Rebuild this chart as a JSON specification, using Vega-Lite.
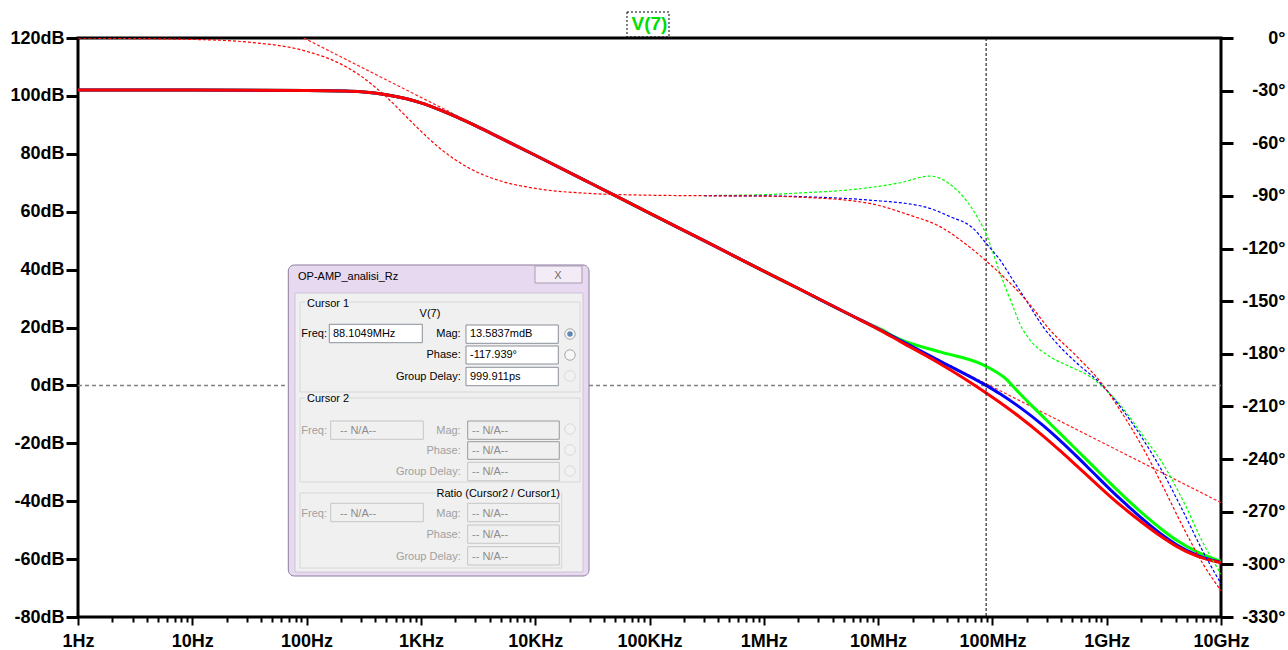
{
  "$schema": "https://vega.github.io/schema/vega-lite/v6.json",
  "width": 1143,
  "height": 579,
  "autosize": {"type": "none"},
  "padding": {"left": 78, "top": 38, "right": 67, "bottom": 33},
  "background": "#ffffff",
  "config": {
    "view": {"stroke": "#000000", "strokeWidth": 3},
    "axis": {
      "labelFont": "Liberation Sans",
      "labelFontWeight": "bold",
      "labelFontSize": 18,
      "labelColor": "#000000",
      "tickColor": "#000000",
      "domain": false,
      "grid": false,
      "labelOverlap": false,
      "labelFlush": false,
      "labelBound": false
    }
  },
  "title": {
    "text": "V(7)",
    "color": "#00dd00",
    "font": "Liberation Sans",
    "fontSize": 19,
    "fontWeight": "bold",
    "anchor": "middle",
    "frame": "group",
    "baseline": "alphabetic",
    "offset": -37
  },
  "datasets": {
    "mag": [
      {"s": "trace3", "f": 1, "d": 102.0}, {"s": "trace3", "f": 10, "d": 102.0}, {"s": "trace3", "f": 100, "d": 101.9}, {"s": "trace3", "f": 200, "d": 101.7}, {"s": "trace3", "f": 300, "d": 101.4}, {"s": "trace3", "f": 500, "d": 100.4}, {"s": "trace3", "f": 750, "d": 99.0}, {"s": "trace3", "f": 1000, "d": 97.6}, {"s": "trace3", "f": 1500, "d": 95.0}, {"s": "trace3", "f": 2000, "d": 92.9}, {"s": "trace3", "f": 3000, "d": 89.7}, {"s": "trace3", "f": 5000, "d": 85.4}, {"s": "trace3", "f": 10000, "d": 79.5}, {"s": "trace3", "f": 30000, "d": 70.0}, {"s": "trace3", "f": 100000, "d": 59.5}, {"s": "trace3", "f": 300000, "d": 50.0}, {"s": "trace3", "f": 1000000, "d": 39.5}, {"s": "trace3", "f": 2070000, "d": 33.2}, {"s": "trace3", "f": 5680000, "d": 24.4},
      {"s": "trace3", "f": 6940000, "d": 22.7}, {"s": "trace3", "f": 10390000, "d": 19.5}, {"s": "trace3", "f": 15560000, "d": 15.9}, {"s": "trace3", "f": 34800000, "d": 11.6}, {"s": "trace3", "f": 77900000, "d": 7.6}, {"s": "trace3", "f": 101200000, "d": 5.3}, {"s": "trace3", "f": 134200000, "d": 1.9}, {"s": "trace3", "f": 151400000, "d": -0.3}, {"s": "trace3", "f": 174200000, "d": -2.9}, {"s": "trace3", "f": 220000000, "d": -6.9}, {"s": "trace3", "f": 277000000, "d": -10.8}, {"s": "trace3", "f": 400000000, "d": -17.0}, {"s": "trace3", "f": 550000000, "d": -22.4}, {"s": "trace3", "f": 760000000, "d": -27.9}, {"s": "trace3", "f": 1069000000, "d": -33.7}, {"s": "trace3", "f": 1500000000, "d": -39.3}, {"s": "trace3", "f": 2080000000, "d": -44.4}, {"s": "trace3", "f": 3000000000, "d": -49.6}, {"s": "trace3", "f": 4120000000, "d": -53.6}, {"s": "trace3", "f": 6170000000, "d": -57.5}, {"s": "trace3", "f": 10000000000, "d": -60.8},

      {"s": "trace2", "f": 1, "d": 102.0}, {"s": "trace2", "f": 10, "d": 102.0}, {"s": "trace2", "f": 100, "d": 101.9}, {"s": "trace2", "f": 200, "d": 101.7}, {"s": "trace2", "f": 300, "d": 101.4}, {"s": "trace2", "f": 500, "d": 100.4}, {"s": "trace2", "f": 750, "d": 99.0}, {"s": "trace2", "f": 1000, "d": 97.6}, {"s": "trace2", "f": 1500, "d": 95.0}, {"s": "trace2", "f": 2000, "d": 92.9}, {"s": "trace2", "f": 3000, "d": 89.7}, {"s": "trace2", "f": 5000, "d": 85.4}, {"s": "trace2", "f": 10000, "d": 79.5}, {"s": "trace2", "f": 30000, "d": 70.0}, {"s": "trace2", "f": 100000, "d": 59.5}, {"s": "trace2", "f": 300000, "d": 50.0}, {"s": "trace2", "f": 1000000, "d": 39.5}, {"s": "trace2", "f": 2070000, "d": 33.2}, {"s": "trace2", "f": 5680000, "d": 24.4},
      {"s": "trace2", "f": 10390000, "d": 19.2}, {"s": "trace2", "f": 15560000, "d": 15.6}, {"s": "trace2", "f": 34800000, "d": 8.4}, {"s": "trace2", "f": 88100000, "d": 0.0}, {"s": "trace2", "f": 116500000, "d": -2.9}, {"s": "trace2", "f": 174200000, "d": -7.6}, {"s": "trace2", "f": 277000000, "d": -13.8}, {"s": "trace2", "f": 400000000, "d": -19.4}, {"s": "trace2", "f": 550000000, "d": -24.6}, {"s": "trace2", "f": 760000000, "d": -30.1}, {"s": "trace2", "f": 1069000000, "d": -35.9}, {"s": "trace2", "f": 1500000000, "d": -41.3}, {"s": "trace2", "f": 2080000000, "d": -46.3}, {"s": "trace2", "f": 3000000000, "d": -51.4}, {"s": "trace2", "f": 4120000000, "d": -55.1}, {"s": "trace2", "f": 6170000000, "d": -58.6}, {"s": "trace2", "f": 10000000000, "d": -61.1},

      {"s": "trace1", "f": 1, "d": 102.0}, {"s": "trace1", "f": 10, "d": 102.0}, {"s": "trace1", "f": 100, "d": 101.9}, {"s": "trace1", "f": 200, "d": 101.7}, {"s": "trace1", "f": 300, "d": 101.4}, {"s": "trace1", "f": 500, "d": 100.4}, {"s": "trace1", "f": 750, "d": 99.0}, {"s": "trace1", "f": 1000, "d": 97.6}, {"s": "trace1", "f": 1500, "d": 95.0}, {"s": "trace1", "f": 2000, "d": 92.9}, {"s": "trace1", "f": 3000, "d": 89.7}, {"s": "trace1", "f": 5000, "d": 85.4}, {"s": "trace1", "f": 10000, "d": 79.5}, {"s": "trace1", "f": 30000, "d": 70.0}, {"s": "trace1", "f": 100000, "d": 59.5}, {"s": "trace1", "f": 300000, "d": 50.0}, {"s": "trace1", "f": 1000000, "d": 39.5}, {"s": "trace1", "f": 2070000, "d": 33.2}, {"s": "trace1", "f": 5680000, "d": 24.4},
      {"s": "trace1", "f": 10390000, "d": 19.1}, {"s": "trace1", "f": 15560000, "d": 15.2}, {"s": "trace1", "f": 34800000, "d": 7.5}, {"s": "trace1", "f": 70400000, "d": 0.0}, {"s": "trace1", "f": 116500000, "d": -5.9}, {"s": "trace1", "f": 174200000, "d": -11.0}, {"s": "trace1", "f": 277000000, "d": -17.4}, {"s": "trace1", "f": 400000000, "d": -22.9}, {"s": "trace1", "f": 550000000, "d": -27.9}, {"s": "trace1", "f": 760000000, "d": -33.0}, {"s": "trace1", "f": 1069000000, "d": -38.3}, {"s": "trace1", "f": 1500000000, "d": -43.2}, {"s": "trace1", "f": 2080000000, "d": -47.6}, {"s": "trace1", "f": 3000000000, "d": -52.2}, {"s": "trace1", "f": 4120000000, "d": -55.7}, {"s": "trace1", "f": 6170000000, "d": -59.0}, {"s": "trace1", "f": 10000000000, "d": -61.3}
    ],
    "phase": [
      {"s": "trace3", "f": 300000, "p": -89.8},
      {"s": "trace3", "f": 1000000, "p": -89.3}, {"s": "trace3", "f": 2070000, "p": -88.3}, {"s": "trace3", "f": 5680000, "p": -86.5}, {"s": "trace3", "f": 15560000, "p": -82.5}, {"s": "trace3", "f": 28400000, "p": -78.7}, {"s": "trace3", "f": 45200000, "p": -84.7}, {"s": "trace3", "f": 67600000, "p": -98}, {"s": "trace3", "f": 89700000, "p": -113}, {"s": "trace3", "f": 116500000, "p": -134}, {"s": "trace3", "f": 151400000, "p": -153}, {"s": "trace3", "f": 174200000, "p": -163}, {"s": "trace3", "f": 213000000, "p": -172}, {"s": "trace3", "f": 319000000, "p": -181.6}, {"s": "trace3", "f": 477000000, "p": -187.3}, {"s": "trace3", "f": 714000000, "p": -193}, {"s": "trace3", "f": 874000000, "p": -197.5}, {"s": "trace3", "f": 1307000000, "p": -209}, {"s": "trace3", "f": 2090000000, "p": -227}, {"s": "trace3", "f": 3128000000, "p": -243}, {"s": "trace3", "f": 4680000000, "p": -264}, {"s": "trace3", "f": 7000000000, "p": -288}, {"s": "trace3", "f": 10000000000, "p": -305.5},

      {"s": "trace2", "f": 300000, "p": -89.9},
      {"s": "trace2", "f": 1000000, "p": -90.0}, {"s": "trace2", "f": 2070000, "p": -90.4}, {"s": "trace2", "f": 8000000, "p": -92.3}, {"s": "trace2", "f": 24700000, "p": -96}, {"s": "trace2", "f": 42600000, "p": -101.8}, {"s": "trace2", "f": 67600000, "p": -108.4}, {"s": "trace2", "f": 88100000, "p": -117.0}, {"s": "trace2", "f": 116500000, "p": -126.5}, {"s": "trace2", "f": 151400000, "p": -138}, {"s": "trace2", "f": 201000000, "p": -150.3}, {"s": "trace2", "f": 277000000, "p": -164.5}, {"s": "trace2", "f": 390000000, "p": -176}, {"s": "trace2", "f": 550000000, "p": -185.4}, {"s": "trace2", "f": 874000000, "p": -196.7}, {"s": "trace2", "f": 1307000000, "p": -210}, {"s": "trace2", "f": 2090000000, "p": -229}, {"s": "trace2", "f": 3128000000, "p": -248}, {"s": "trace2", "f": 4680000000, "p": -270}, {"s": "trace2", "f": 7000000000, "p": -293}, {"s": "trace2", "f": 10000000000, "p": -311},

      {"s": "trace1", "f": 1, "p": -0.1}, {"s": "trace1", "f": 10, "p": -0.8}, {"s": "trace1", "f": 30, "p": -2.3}, {"s": "trace1", "f": 100, "p": -7.6}, {"s": "trace1", "f": 200, "p": -14.9}, {"s": "trace1", "f": 300, "p": -21.8}, {"s": "trace1", "f": 500, "p": -33.7}, {"s": "trace1", "f": 750, "p": -45.0}, {"s": "trace1", "f": 1000, "p": -53.1}, {"s": "trace1", "f": 1500, "p": -63.4}, {"s": "trace1", "f": 2000, "p": -69.4}, {"s": "trace1", "f": 3000, "p": -76.0}, {"s": "trace1", "f": 5000, "p": -81.5}, {"s": "trace1", "f": 10000, "p": -85.7}, {"s": "trace1", "f": 30000, "p": -88.6}, {"s": "trace1", "f": 100000, "p": -89.6}, {"s": "trace1", "f": 300000, "p": -89.9},
      {"s": "trace1", "f": 1000000, "p": -90.1}, {"s": "trace1", "f": 2070000, "p": -90.7}, {"s": "trace1", "f": 8000000, "p": -94}, {"s": "trace1", "f": 19000000, "p": -101}, {"s": "trace1", "f": 34800000, "p": -107.5}, {"s": "trace1", "f": 60000000, "p": -118}, {"s": "trace1", "f": 89700000, "p": -127.5}, {"s": "trace1", "f": 134200000, "p": -138}, {"s": "trace1", "f": 174200000, "p": -145.5}, {"s": "trace1", "f": 213000000, "p": -152}, {"s": "trace1", "f": 319000000, "p": -166.4}, {"s": "trace1", "f": 550000000, "p": -181.6}, {"s": "trace1", "f": 928000000, "p": -197.8}, {"s": "trace1", "f": 1307000000, "p": -212}, {"s": "trace1", "f": 2090000000, "p": -234}, {"s": "trace1", "f": 3128000000, "p": -256}, {"s": "trace1", "f": 4680000000, "p": -279}, {"s": "trace1", "f": 7000000000, "p": -300}, {"s": "trace1", "f": 10000000000, "p": -315}
    ],
    "asym": [{"f": 94.4, "d": 120}, {"f": 10000000000, "d": -40.5}],
    "zero": [{"f": 1, "f2": 10000000000, "d": 0}],
    "cursor": [{"f": 88104900, "d": 120, "d2": -80}],
    "rects": [
      {"role": "title_box", "f": 63550, "f2": 148100, "d": 128.98, "d2": 120.35},
      {"role": "frame", "f": 69.18, "f2": 29560, "d": 41.59, "d2": -65.84},
      {"role": "close", "f": 9961, "f2": 25670, "d": 41.24, "d2": 35.37},
      {"role": "client", "f": 79.14, "f2": 26200, "d": 31.92, "d2": -64.46},
      {"role": "group", "f": 87.55, "f2": 24660, "d": 28.81, "d2": -2.28},
      {"role": "group", "f": 87.55, "f2": 24660, "d": -4.35, "d2": -33.37},
      {"role": "group", "f": 87.55, "f2": 17053, "d": -37.17, "d2": -63.1},
      {"role": "labelbg", "f": 96.8, "f2": 235, "d": 30.19, "d2": 26.39},
      {"role": "labelbg", "f": 96.8, "f2": 235, "d": -2.63, "d2": -6.42},
      {"role": "labelbg", "f": 1356, "f2": 16815, "d": -35.44, "d2": -38.89},
      {"role": "box", "f": 158.0, "f2": 1028.5, "d": 21.11, "d2": 14.75},
      {"role": "box", "f": 2481, "f2": 15925, "d": 20.86, "d2": 14.54},
      {"role": "box", "f": 2481, "f2": 15925, "d": 13.61, "d2": 7.39},
      {"role": "box", "f": 2481, "f2": 15925, "d": 6.25, "d2": -0.10},
      {"role": "box_disabled", "f": 162.5, "f2": 1049.5, "d": -12.30, "d2": -18.62},
      {"role": "box_disabled_dark", "f": 2567, "f2": 16248, "d": -12.30, "d2": -18.62},
      {"role": "box_disabled_dark", "f": 2567, "f2": 16248, "d": -19.45, "d2": -25.53},
      {"role": "box_disabled", "f": 2567, "f2": 16248, "d": -26.56, "d2": -32.92},
      {"role": "box_disabled", "f": 162.5, "f2": 1049.5, "d": -40.73, "d2": -47.08},
      {"role": "box_disabled", "f": 2567, "f2": 16248, "d": -40.73, "d2": -47.08},
      {"role": "box_disabled", "f": 2567, "f2": 16248, "d": -48.22, "d2": -54.54},
      {"role": "box_disabled", "f": 2567, "f2": 16248, "d": -55.72, "d2": -62.04}
    ],
    "texts": [
      {"role": "window_title", "f": 84.09, "d": 36.41, "t": "OP-AMP_analisi_Rz"},
      {"role": "close", "f": 15830, "d": 36.9, "t": "X"},
      {"role": "heading", "f": 100.8, "d": 27.08, "t": "Cursor 1"},
      {"role": "heading", "f": 100.8, "d": -5.73, "t": "Cursor 2"},
      {"role": "heading_right", "f": 16480, "d": -38.55, "t": "Ratio (Cursor2 / Cursor1)"},
      {"role": "caption", "f": 1201, "d": 23.73, "t": "V(7)"},
      {"role": "label", "f": 150.8, "d": 16.72, "t": "Freq:"},
      {"role": "label", "f": 2229, "d": 16.72, "t": "Mag:"},
      {"role": "label", "f": 2229, "d": 9.36, "t": "Phase:"},
      {"role": "label", "f": 2229, "d": 1.87, "t": "Group Delay:"},
      {"role": "value", "f": 170.2, "d": 16.72, "t": "88.1049MHz"},
      {"role": "value", "f": 2689, "d": 16.72, "t": "13.5837mdB"},
      {"role": "value", "f": 2689, "d": 9.36, "t": "-117.939°"},
      {"role": "value", "f": 2689, "d": 1.87, "t": "999.911ps"},
      {"role": "label_disabled", "f": 150.8, "d": -16.79, "t": "Freq:"},
      {"role": "label_disabled", "f": 2229, "d": -16.79, "t": "Mag:"},
      {"role": "label_disabled", "f": 2229, "d": -23.70, "t": "Phase:"},
      {"role": "label_disabled", "f": 2229, "d": -30.95, "t": "Group Delay:"},
      {"role": "label_disabled", "f": 150.8, "d": -45.35, "t": "Freq:"},
      {"role": "label_disabled", "f": 2229, "d": -45.35, "t": "Mag:"},
      {"role": "label_disabled", "f": 2229, "d": -52.82, "t": "Phase:"},
      {"role": "label_disabled", "f": 2229, "d": -60.31, "t": "Group Delay:"},
      {"role": "value_disabled", "f": 196, "d": -16.79, "t": "-- N/A--"},
      {"role": "value_disabled", "f": 2800, "d": -16.79, "t": "-- N/A--"},
      {"role": "value_disabled", "f": 2800, "d": -23.70, "t": "-- N/A--"},
      {"role": "value_disabled", "f": 2800, "d": -30.95, "t": "-- N/A--"},
      {"role": "value_disabled", "f": 196, "d": -45.35, "t": "-- N/A--"},
      {"role": "value_disabled", "f": 2800, "d": -45.35, "t": "-- N/A--"},
      {"role": "value_disabled", "f": 2800, "d": -52.82, "t": "-- N/A--"},
      {"role": "value_disabled", "f": 2800, "d": -60.31, "t": "-- N/A--"}
    ],
    "radios": [
      {"role": "radio_selected", "f": 20160, "d": 17.75},
      {"role": "radio", "f": 20160, "d": 10.50},
      {"role": "radio_disabled", "f": 20160, "d": 3.25},
      {"role": "radio_disabled", "f": 20160, "d": -15.06},
      {"role": "radio_disabled", "f": 20160, "d": -22.31},
      {"role": "radio_disabled", "f": 20160, "d": -29.57}
    ]
  },
  "encoding": {
    "x": {
      "field": "f",
      "type": "quantitative",
      "scale": {"type": "log", "domain": [1, 10000000000], "nice": false},
      "axis": {
        "orient": "bottom",
        "title": null,
        "values": [1,2,3,4,5,6,7,8,9,10,20,30,40,50,60,70,80,90,100,200,300,400,500,600,700,800,900,1000,2000,3000,4000,5000,6000,7000,8000,9000,10000,20000,30000,40000,50000,60000,70000,80000,90000,100000,200000,300000,400000,500000,600000,700000,800000,900000,1000000,2000000,3000000,4000000,5000000,6000000,7000000,8000000,9000000,10000000,20000000,30000000,40000000,50000000,60000000,70000000,80000000,90000000,100000000,200000000,300000000,400000000,500000000,600000000,700000000,800000000,900000000,1000000000,2000000000,3000000000,4000000000,5000000000,6000000000,7000000000,8000000000,9000000000,10000000000],
        "labelExpr": "datum.value==1?'1Hz':datum.value==10?'10Hz':datum.value==100?'100Hz':datum.value==1000?'1KHz':datum.value==10000?'10KHz':datum.value==100000?'100KHz':datum.value==1000000?'1MHz':datum.value==10000000?'10MHz':datum.value==100000000?'100MHz':datum.value==1000000000?'1GHz':datum.value==10000000000?'10GHz':''",
        "tickSize": {"condition": {"test": "abs(log(datum.value)/LN10-round(log(datum.value)/LN10))<0.000001", "value": 8}, "value": 5},
        "tickWidth": 2,
        "labelPadding": 7
      }
    }
  },
  "layer": [
    {
      "encoding": {
        "y": {
          "field": "d",
          "type": "quantitative",
          "scale": {"domain": [-80, 120], "nice": false, "zero": false},
          "axis": {
            "orient": "left",
            "title": null,
            "values": [-80, -60, -40, -20, 0, 20, 40, 60, 80, 100, 120],
            "labelExpr": "datum.value + 'dB'",
            "tickSize": 12,
            "tickWidth": 3,
            "labelPadding": 2
          }
        }
      },
      "layer": [
        {
          "data": {"name": "zero"},
          "mark": {"type": "rule", "color": "#7f7f7f", "strokeWidth": 1.5, "strokeDash": [4, 3]},
          "encoding": {"x2": {"field": "f2"}}
        },
        {
          "data": {"name": "asym"},
          "mark": {"type": "line", "color": "#ff2020", "strokeWidth": 1.2, "strokeDash": [3, 2], "clip": true},
          "encoding": {}
        },
        {
          "data": {"name": "mag"},
          "mark": {"type": "line", "strokeWidth": 3, "interpolate": "monotone", "clip": true},
          "encoding": {
            "color": {"field": "s", "type": "nominal", "scale": {"domain": ["trace1", "trace2", "trace3"], "range": ["#ff0000", "#0000ff", "#00ff00"]}, "legend": null}
          }
        },
        {
          "data": {"name": "cursor"},
          "mark": {"type": "rule", "color": "#000000", "strokeWidth": 1, "strokeDash": [3, 2]},
          "encoding": {"y2": {"field": "d2"}}
        },
        {
          "data": {"name": "rects"},
          "transform": [{"filter": "datum.role == 'title_box'"}],
          "mark": {"type": "rect", "fill": "transparent", "stroke": "#000000", "strokeWidth": 1, "strokeDash": [2, 2]},
          "encoding": {"x2": {"field": "f2"}, "y2": {"field": "d2"}}
        },
        {
          "data": {"name": "rects"},
          "transform": [{"filter": "datum.role == 'frame'"}],
          "mark": {"type": "rect", "fill": "#e6d9f0", "stroke": "#8c7d9c", "strokeWidth": 1, "cornerRadius": 6},
          "encoding": {"x2": {"field": "f2"}, "y2": {"field": "d2"}}
        },
        {
          "data": {"name": "rects"},
          "transform": [{"filter": "datum.role != 'frame' && datum.role != 'title_box'"}],
          "mark": {"type": "rect", "strokeWidth": 1},
          "encoding": {
            "x2": {"field": "f2"},
            "y2": {"field": "d2"},
            "fill": {
              "condition": [
                {"test": "datum.role == 'close'", "value": "#f3ecf6"},
                {"test": "datum.role == 'group'", "value": "transparent"},
                {"test": "datum.role == 'box'", "value": "#ffffff"}
              ],
              "value": "#f0f0f0"
            },
            "stroke": {
              "condition": [
                {"test": "datum.role == 'close'", "value": "#a89bb5"},
                {"test": "datum.role == 'client'", "value": "#cfc4d8"},
                {"test": "datum.role == 'group'", "value": "#d6d6d6"},
                {"test": "datum.role == 'labelbg'", "value": "transparent"},
                {"test": "datum.role == 'box'", "value": "#8a8f98"},
                {"test": "datum.role == 'box_disabled_dark'", "value": "#9a9a9a"}
              ],
              "value": "#c6c6c6"
            }
          }
        },
        {
          "data": {"name": "texts"},
          "transform": [{"filter": "datum.role == 'window_title' || datum.role == 'heading' || datum.role == 'value' || datum.role == 'value_disabled'"}],
          "mark": {"type": "text", "align": "left", "baseline": "alphabetic", "font": "Liberation Sans", "fontSize": 11},
          "encoding": {
            "text": {"field": "t"},
            "fill": {"condition": {"test": "datum.role == 'value_disabled'", "value": "#8d8d8d"}, "value": "#000000"}
          }
        },
        {
          "data": {"name": "texts"},
          "transform": [{"filter": "datum.role == 'label' || datum.role == 'label_disabled' || datum.role == 'heading_right'"}],
          "mark": {"type": "text", "align": "right", "baseline": "alphabetic", "font": "Liberation Sans", "fontSize": 11},
          "encoding": {
            "text": {"field": "t"},
            "fill": {"condition": {"test": "datum.role == 'label_disabled'", "value": "#a0a0a0"}, "value": "#000000"}
          }
        },
        {
          "data": {"name": "texts"},
          "transform": [{"filter": "datum.role == 'caption' || datum.role == 'close'"}],
          "mark": {"type": "text", "align": "center", "baseline": "alphabetic", "font": "Liberation Sans", "fontSize": 11},
          "encoding": {
            "text": {"field": "t"},
            "fill": {"condition": {"test": "datum.role == 'close'", "value": "#6b6b6b"}, "value": "#000000"}
          }
        },
        {
          "data": {"name": "radios"},
          "mark": {"type": "point", "shape": "circle", "filled": true, "size": 110, "strokeWidth": 1},
          "encoding": {
            "fill": {"condition": {"test": "datum.role == 'radio_disabled'", "value": "#f4f4f4"}, "value": "#fbfbfb"},
            "stroke": {"condition": {"test": "datum.role == 'radio_disabled'", "value": "#d0d0d0"}, "value": "#8a8a8a"}
          }
        },
        {
          "data": {"name": "radios"},
          "transform": [{"filter": "datum.role == 'radio_selected'"}],
          "mark": {"type": "point", "shape": "circle", "filled": true, "size": 30, "color": "#1c5a99"},
          "encoding": {}
        }
      ]
    },
    {
      "encoding": {
        "y": {
          "field": "p",
          "type": "quantitative",
          "scale": {"domain": [-330, 0], "nice": false, "zero": false},
          "axis": {
            "orient": "right",
            "title": null,
            "values": [0, -30, -60, -90, -120, -150, -180, -210, -240, -270, -300, -330],
            "labelExpr": "datum.value + '°'",
            "labelAlign": "right",
            "tickSize": 12,
            "tickWidth": 3,
            "labelPadding": 52
          }
        }
      },
      "layer": [
        {
          "data": {"name": "phase"},
          "mark": {"type": "line", "strokeWidth": 1.2, "strokeDash": [3, 2], "interpolate": "monotone", "clip": true},
          "encoding": {
            "color": {"field": "s", "type": "nominal", "scale": {"domain": ["trace1", "trace2", "trace3"], "range": ["#ff0000", "#0000ff", "#00ff00"]}, "legend": null}
          }
        }
      ]
    }
  ],
  "resolve": {"scale": {"y": "independent"}, "axis": {"y": "independent"}}
}
